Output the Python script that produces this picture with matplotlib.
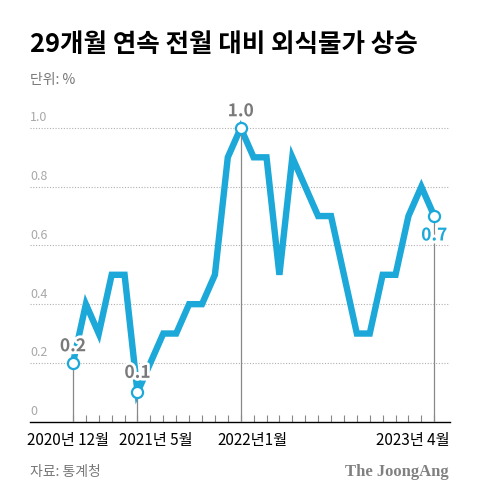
import matplotlib
matplotlib.use('Agg')
import matplotlib.pyplot as plt
import matplotlib.patheffects as pe
import matplotlib.transforms as mtransforms

plt.rcParams['font.family'] = ['Noto Sans CJK KR', 'DejaVu Sans']

# 2020년 12월 ~ 2023년 4월 (29개월)
months = ['2020-12',
          '2021-01', '2021-02', '2021-03', '2021-04', '2021-05', '2021-06',
          '2021-07', '2021-08', '2021-09', '2021-10', '2021-11', '2021-12',
          '2022-01', '2022-02', '2022-03', '2022-04', '2022-05', '2022-06',
          '2022-07', '2022-08', '2022-09', '2022-10', '2022-11', '2022-12',
          '2023-01', '2023-02', '2023-03', '2023-04']
values = [0.2,
          0.4, 0.3, 0.5, 0.5, 0.1, 0.2,
          0.3, 0.3, 0.4, 0.4, 0.5, 0.9,
          1.0, 0.9, 0.9, 0.5, 0.9, 0.8,
          0.7, 0.7, 0.5, 0.3, 0.3, 0.5,
          0.5, 0.7, 0.8, 0.7]
yticks = [0, 0.2, 0.4, 0.6, 0.8, 1.0]
ytick_labels = ['0', '0.2', '0.4', '0.6', '0.8', '1.0']
marked = ['2020-12', '2021-05', '2022-01', '2023-04']
xlabel_text = ['2020년 12월', '2021년 5월', '2022년1월', '2023년 4월']
xlabel_pos = [-0.4, 6.4, 13.95, 26.3]

blue = '#1ca8d8'
gray = '#7a7a7a'

x = list(range(len(months)))

fig = plt.figure(figsize=(4.8, 4.99), dpi=100)
ax = fig.add_axes([0.0625, 0.155, 0.875, 0.6357])
ax.set_xlim(-3.33, 29.22)
ax.set_ylim(0, 1.08)

for v in yticks[1:]:
    ax.axhline(v, color='#b0b0b0', lw=0.8, ls=(0, (1, 1.5)), zorder=1)
trans = mtransforms.blended_transform_factory(ax.transAxes, ax.transData)
for v, lab in zip(yticks, ytick_labels):
    ax.text(0, v + 0.012, lab, transform=trans, ha='left', va='bottom',
            fontsize=9, color='#a8a8a8')

ax.plot(x, values, color=blue, lw=4.6, solid_joinstyle='miter', zorder=3)

for m in marked:
    i = months.index(m)
    ax.vlines(i, 0, values[i], color='#888888', lw=0.9, zorder=4)
    ax.plot(i, values[i], 'o', ms=8, mfc='white', mec=blue, mew=1.6, zorder=6)

offsets = {'2020-12': 12, '2021-05': 14, '2022-01': 12, '2023-04': -14}
for m in marked:
    i = months.index(m)
    col = blue if m == '2023-04' else gray
    ax.annotate(f'{values[i]:.1f}', (i, values[i]), xytext=(0, offsets[m]),
                textcoords='offset points', ha='center', va='center',
                fontsize=12.5, fontweight='bold', color=col, zorder=7,
                path_effects=[pe.withStroke(linewidth=4, foreground='white')])

ax.set_xticks(x)
ax.set_xticklabels([])
ax.tick_params(axis='x', direction='in', length=5, width=0.8, colors='#888888')
ax.set_yticks([])
for s in ['top', 'right', 'left']:
    ax.spines[s].set_visible(False)
ax.spines['bottom'].set_color('black')
ax.spines['bottom'].set_linewidth(1)

for p, lab in zip(xlabel_pos, xlabel_text):
    ax.text(p, -0.035, lab, ha='center', va='top', fontsize=11,
            fontweight='medium', color='black')

fig.text(30 / 480, 1 - 45 / 499, '29개월 연속 전월 대비 외식물가 상승',
         ha='left', va='center', fontsize=18.4, fontweight='heavy', color='black')
fig.text(30 / 480, 1 - 80 / 499, '단위: %', ha='left', va='center',
         fontsize=10, color='#777777')
fig.text(30 / 480, 1 - 472 / 499, '자료: 통계청', ha='left', va='center',
         fontsize=10, color='#777777')
fig.text(449 / 480, 1 - 472 / 499, 'The JoongAng', ha='right', va='center',
         fontsize=12, fontweight='bold', color='#808080',
         family='Liberation Serif')

fig.savefig('out.png', dpi=100)
